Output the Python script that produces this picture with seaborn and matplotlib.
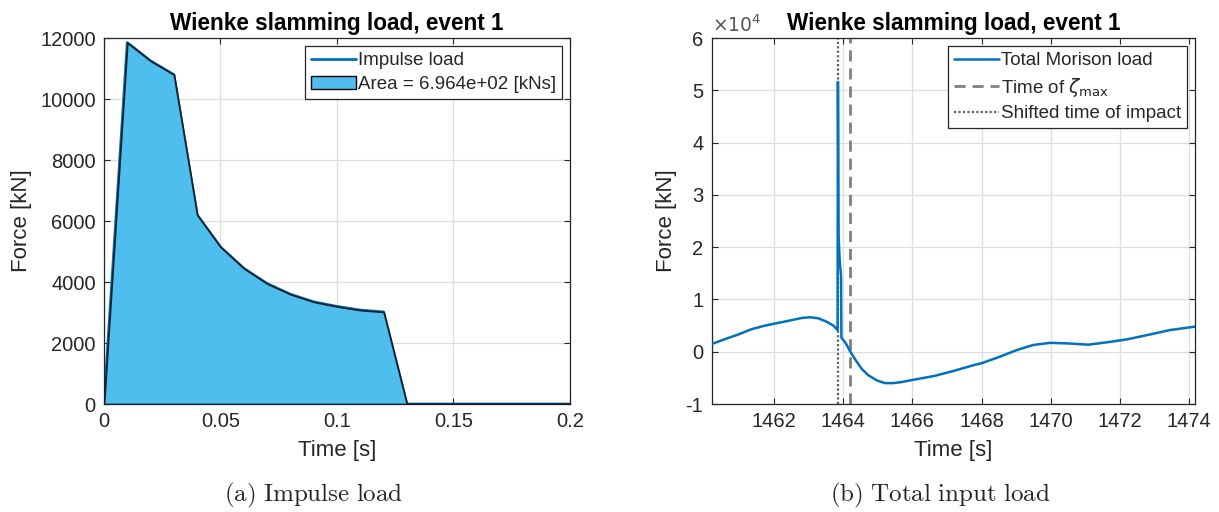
import numpy as np
import pandas as pd
import matplotlib
matplotlib.use("Agg")
import matplotlib.pyplot as plt
import seaborn as sns
from matplotlib.patches import Patch
from matplotlib.lines import Line2D

# ---------------- data ----------------
# (a) impulse load
impulse_time = [0.0, 0.01, 0.02, 0.03, 0.04, 0.05, 0.06, 0.07, 0.08, 0.09,
                0.10, 0.11, 0.12, 0.13, 0.20]
impulse_force = [0, 11850, 11250, 10800, 6200, 5150, 4450, 3950, 3600, 3350,
                 3200, 3080, 3020, 0, 0]
impulse_xticks = [0, 0.05, 0.1, 0.15, 0.2]
impulse_xticklabels = ["0", "0.05", "0.1", "0.15", "0.2"]
impulse_yticks = [0, 2000, 4000, 6000, 8000, 10000, 12000]

# (b) total input load
total_time = [1460.20, 1460.58, 1460.97, 1461.35, 1461.74, 1462.00, 1462.41,
              1462.80, 1463.04, 1463.28, 1463.52, 1463.72, 1463.84, 1463.85,
              1463.87, 1463.90, 1463.94, 1463.95, 1464.07, 1464.21, 1464.36,
              1464.54, 1464.73, 1464.98, 1465.21, 1465.45, 1465.69, 1466.00,
              1466.66, 1467.23, 1467.81, 1468.00, 1468.53, 1469.01, 1469.50,
              1469.98, 1470.46, 1471.09, 1471.62, 1472.19, 1472.87, 1473.45,
              1474.17]
total_force = [1470, 2400, 3300, 4300, 5000, 5350, 5900,
               6450, 6600, 6400, 5750, 5000, 4150, 51600,
               22000, 17500, 14500, 2700, 1700, 0, -1600,
               -3300, -4500, -5500, -6000, -6000, -5800, -5400,
               -4600, -3600, -2500, -2200, -950, 300, 1300,
               1700, 1600, 1350, 1800, 2350, 3300, 4150,
               4800]
time_zeta_max = 1464.20
time_impact_shifted = 1463.86
total_xticks = [1462, 1464, 1466, 1468, 1470, 1472, 1474]
total_yticks = [-10000, 0, 10000, 20000, 30000, 40000, 50000, 60000]
total_yticklabels = ["-1", "0", "1", "2", "3", "4", "5", "6"]

title_text = "Wienke slamming load, event 1"
area_label = "Area = 6.964e+02 [kNs]"

# ---------------- style ----------------
sns.set_style("ticks")
plt.rcParams["font.family"] = ["Liberation Sans", "DejaVu Sans"]
plt.rcParams["axes.unicode_minus"] = False

TXT = "#262626"
BLUE = "#0072BD"
FILL = "#4DBEEE"

fig = plt.figure(figsize=(12.19, 5.12), dpi=100)
ax1 = fig.add_axes([0.0853, 0.2109, 0.3823, 0.7148])
ax2 = fig.add_axes([0.5838, 0.2109, 0.3965, 0.7148])


def style_axes(ax):
    ax.grid(True, color="#dedede", linewidth=0.9)
    ax.set_axisbelow(True)
    for s in ax.spines.values():
        s.set_color(TXT)
        s.set_linewidth(0.9)
    ax.tick_params(direction="in", length=4, width=0.8, colors=TXT,
                   labelsize=14.5, top=True, right=True, pad=6)
    ax.set_title(title_text, fontsize=16.3, fontweight="bold", color="black", pad=6)


# ---- (a) ----
df1 = pd.DataFrame({"t": impulse_time, "F": impulse_force})
sns.lineplot(data=df1, x="t", y="F", ax=ax1, color=BLUE, linewidth=2.0,
             estimator=None, sort=False)
ax1.fill_between(df1["t"], df1["F"], 0, facecolor=FILL, edgecolor="#14202a",
                 linewidth=1.3, zorder=3)
ax1.set_xlim(0, 0.2)
ax1.set_ylim(0, 12000)
ax1.set_xticks(impulse_xticks, impulse_xticklabels)
ax1.set_yticks(impulse_yticks)
ax1.set_xlabel("Time [s]", fontsize=16, color=TXT, labelpad=6)
ax1.set_ylabel("Force [kN]", fontsize=16, color=TXT, labelpad=6)
style_axes(ax1)
h1 = [Line2D([], [], color=BLUE, linewidth=2.0),
      Patch(facecolor=FILL, edgecolor="black", linewidth=1.0)]
leg1 = ax1.legend(h1, ["Impulse load", area_label], loc="upper right",
                  fontsize=13.5, frameon=True, fancybox=False, framealpha=1,
                  edgecolor=TXT, handlelength=2.4, handletextpad=0.1,
                  borderpad=0.3, labelspacing=0.35, borderaxespad=0.45)
leg1.get_frame().set_linewidth(0.9)

# ---- (b) ----
df2 = pd.DataFrame({"t": total_time, "F": total_force})
sns.lineplot(data=df2, x="t", y="F", ax=ax2, color=BLUE, linewidth=1.8,
             estimator=None, sort=False, zorder=3)
ax2.axvline(time_zeta_max, color="#808080", linestyle=(0, (4, 2.5)), linewidth=2.0, zorder=2)
ax2.axvline(time_impact_shifted, color="#606060", linestyle=(0, (1, 1.0)), linewidth=1.6, zorder=2)
ax2.set_xlim(1460.20, 1474.17)
ax2.set_ylim(-10000, 60000)
ax2.set_xticks(total_xticks)
ax2.set_yticks(total_yticks, total_yticklabels)
ax2.set_xlabel("Time [s]", fontsize=16, color=TXT, labelpad=6)
ax2.set_ylabel("Force [kN]", fontsize=16, color=TXT, labelpad=6)
style_axes(ax2)
ax2.text(0.0, 1.005, r"$\times10^{4}$", transform=ax2.transAxes, ha="left",
         va="bottom", fontsize=13.5, color="#555555")
h2 = [Line2D([], [], color=BLUE, linewidth=1.8),
      Line2D([], [], color="#808080", linestyle=(0, (4, 2.5)), linewidth=2.0),
      Line2D([], [], color="#606060", linestyle=(0, (1, 1.0)), linewidth=1.6)]
leg2 = ax2.legend(h2, ["Total Morison load", r"Time of $\zeta_{\mathrm{max}}$",
                       "Shifted time of impact"], loc="upper right",
                  fontsize=13.5, frameon=True, fancybox=False, framealpha=1,
                  edgecolor=TXT, handlelength=2.4, handletextpad=0.1,
                  borderpad=0.3, labelspacing=0.35, borderaxespad=0.45)
leg2.get_frame().set_linewidth(0.9)

# captions
fig.text(0.2573, 0.033, r"$\mathrm{(a)\ Impulse\ load}$", ha="center", va="center",
         fontsize=18, math_fontfamily="cm")
fig.text(0.771, 0.033, r"$\mathrm{(b)\ Total\ input\ load}$", ha="center", va="center",
         fontsize=18, math_fontfamily="cm")

fig.savefig("out.png", dpi=100, facecolor="white")
